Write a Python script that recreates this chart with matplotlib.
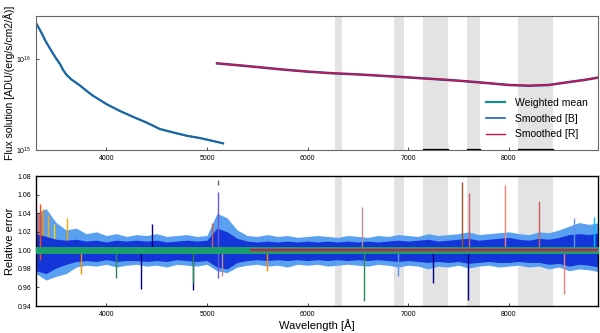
import numpy as np
import matplotlib
matplotlib.use("Agg")
import matplotlib.pyplot as plt

plt.rcParams['font.family'] = ['Liberation Sans', 'DejaVu Sans']

# --- top panel: flux solution (values in units of 1e15)
wl_blue = [3300, 3340, 3400, 3460, 3500, 3540, 3570, 3600, 3650, 3730, 3800,
           3860, 4000, 4130, 4270, 4400, 4530, 4670, 4800, 4930, 5050, 5160]
flux_blue = [25, 21, 15.5, 12, 10.2, 8.8, 7.6, 6.8, 6.0, 5.2, 4.5,
             4.0, 3.2, 2.7, 2.3, 2.0, 1.7, 1.55, 1.43, 1.35, 1.26, 1.18]
wl_red = [5100, 5300, 5500, 5750, 6000, 6250, 6500, 6750, 7000, 7250, 7500,
          7750, 8000, 8200, 8400, 8600, 8750, 8900]
flux_red = [9.0, 8.6, 8.2, 7.7, 7.3, 7.0, 6.8, 6.55, 6.3, 6.05, 5.8,
            5.5, 5.2, 5.1, 5.2, 5.6, 5.9, 6.3]

# telluric / masked regions
bands = [(6270, 6340), (6860, 6960), (7150, 7400), (7590, 7710), (8090, 8440)]
dark_marks = [(7150, 7400), (7590, 7710), (8090, 8440)]

# --- bottom panel: relative error envelopes (every 100 A)
wl_res = list(range(3300, 8901, 100))
outer_hi = [1.040, 1.045, 1.030, 1.022, 1.024, 1.018, 1.020, 1.016, 1.018, 1.015,
            1.017, 1.016, 1.018, 1.015, 1.016, 1.017, 1.015, 1.016, 1.040, 1.035,
            1.022, 1.016, 1.015, 1.017, 1.015, 1.016, 1.014, 1.015, 1.016, 1.015,
            1.014, 1.016, 1.015, 1.014, 1.016, 1.015, 1.017, 1.016, 1.015, 1.018,
            1.016, 1.017, 1.018, 1.020, 1.017, 1.018, 1.019, 1.020, 1.018, 1.017,
            1.020, 1.019, 1.022, 1.026, 1.030, 1.028, 1.030]
outer_lo = [0.975, 0.968, 0.972, 0.975, 0.982, 0.984, 0.983, 0.985, 0.982, 0.984,
            0.985, 0.983, 0.984, 0.982, 0.985, 0.984, 0.983, 0.985, 0.978, 0.976,
            0.982, 0.984, 0.985, 0.983, 0.984, 0.982, 0.985, 0.984, 0.985, 0.983,
            0.984, 0.985, 0.984, 0.983, 0.985, 0.984, 0.982, 0.984, 0.983, 0.980,
            0.983, 0.982, 0.984, 0.981, 0.983, 0.984, 0.982, 0.983, 0.984, 0.982,
            0.983, 0.980, 0.982, 0.978, 0.980, 0.979, 0.977]
inner_hi = [1.018, 1.015, 1.012, 1.011, 1.012, 1.010, 1.011, 1.009, 1.011, 1.010,
            1.011, 1.010, 1.011, 1.009, 1.010, 1.011, 1.010, 1.011, 1.024, 1.020,
            1.013, 1.010, 1.009, 1.010, 1.009, 1.010, 1.009, 1.010, 1.009, 1.010,
            1.009, 1.010, 1.009, 1.010, 1.009, 1.010, 1.011, 1.010, 1.011, 1.012,
            1.010, 1.011, 1.012, 1.013, 1.011, 1.012, 1.013, 1.014, 1.012, 1.011,
            1.013, 1.012, 1.014, 1.017, 1.018, 1.017, 1.019]
inner_lo = [0.978, 0.975, 0.981, 0.985, 0.988, 0.989, 0.988, 0.990, 0.988, 0.989,
            0.989, 0.988, 0.989, 0.988, 0.990, 0.989, 0.988, 0.989, 0.982, 0.980,
            0.987, 0.989, 0.990, 0.989, 0.990, 0.989, 0.990, 0.989, 0.990, 0.989,
            0.990, 0.989, 0.990, 0.989, 0.990, 0.989, 0.988, 0.989, 0.988, 0.987,
            0.988, 0.987, 0.988, 0.986, 0.987, 0.988, 0.987, 0.987, 0.988, 0.987,
            0.987, 0.985, 0.986, 0.983, 0.985, 0.984, 0.982]

# spikes: wavelength, low, high, colour
spikes = [(3320, 1.000, 1.040, 'tomato'), (3340, 0.990, 1.050, 'orangered'),
          (3370, 1.000, 1.045, 'darkorange'), (3420, 1.000, 1.038, 'orange'),
          (3480, 1.000, 1.028, 'gold'), (3610, 0.995, 1.035, 'orange'),
          (3750, 0.975, 1.000, 'darkorange'), (4100, 0.970, 1.000, 'seagreen'),
          (4340, 0.958, 1.000, 'navy'), (4450, 1.000, 1.028, 'navy'),
          (4860, 0.957, 1.000, 'navy'), (4860, 0.965, 1.000, 'seagreen'),
          (5050, 1.000, 1.030, 'indianred'), (5110, 0.970, 1.063, 'slateblue'),
          (5110, 1.070, 1.076, 'dimgray'), (5150, 0.972, 1.000, 'rosybrown'),
          (5600, 0.978, 1.000, 'darkorange'), (6545, 1.000, 1.047, 'rosybrown'),
          (6563, 0.945, 1.000, 'seagreen'), (6900, 0.972, 1.000, 'cornflowerblue'),
          (7250, 0.965, 1.000, 'navy'), (7540, 1.000, 1.074, 'sienna'),
          (7610, 1.000, 1.062, 'indianred'), (7600, 0.946, 1.000, 'navy'),
          (7960, 1.000, 1.070, 'salmon'), (8300, 1.000, 1.053, 'indianred'),
          (8550, 0.953, 1.000, 'lightcoral'), (8650, 1.000, 1.035, 'cornflowerblue'),
          (8850, 1.000, 1.036, 'deepskyblue')]

red_start = 5430
xmin, xmax = 3300, 8890

fig = plt.figure(figsize=(6, 3.33), dpi=100)
ax1 = fig.add_axes([0.06, 0.55, 0.937, 0.402])
ax2 = fig.add_axes([0.06, 0.081, 0.937, 0.39])

for a, b in bands:
    ax1.axvspan(a, b, color='#e3e3e3', lw=0, zorder=0)
    ax2.axvspan(a, b, color='#e3e3e3', lw=0, zorder=0)
for a, b in dark_marks:
    ax1.plot([a, b], [0.003, 0.003], color='black', lw=0.9,
             transform=ax1.get_xaxis_transform(), zorder=3)

fb = np.array(flux_blue) * 1e15
fr = np.array(flux_red) * 1e15
ax1.plot(wl_blue, fb, color='#1b8a8a', lw=1.6, label='Weighted mean')
ax1.plot(wl_blue, fb, color='#1f5fb0', lw=1.2, label='Smoothed [B]')
ax1.plot(wl_red, fr, color='#2a3a90', lw=1.8)
ax1.plot(wl_red, fr, color='#e0104a', lw=1.0, label='Smoothed [R]')
ax1.set_yscale('log')
ax1.set_ylim(1e15, 3e16)
ax1.set_xlim(xmin, xmax)
ax1.minorticks_off()
ax1.set_xticks([4000, 5000, 6000, 7000, 8000])
ax1.set_yticks([1e15, 1e16])
ax1.tick_params(direction='in', labelsize=5, length=2, width=0.5)
for s in ax1.spines.values():
    s.set_color('#666666')
ax1.set_ylabel('Flux solution [ADU/(erg/s/cm2/Å)]', fontsize=7.5, labelpad=1)
leg = ax1.legend(loc='lower right', frameon=False, fontsize=7.5, handlelength=1.8,
                 borderaxespad=0.6, labelspacing=0.55, handletextpad=1.0)

# bottom panel
ax2.fill_between(wl_res, outer_lo, outer_hi, color='#5aa0f0', lw=0, zorder=1)
ax2.fill_between(wl_res, inner_lo, inner_hi, color='#1436d8', lw=0, zorder=2)
for w, lo, hi, c in spikes:
    ax2.vlines(w, lo, hi, color=c, lw=1.0, zorder=1.5 if hi < 1.047 and w < 3700 else 3)
ax2.fill_between(wl_res, 0.996, 1.004, color='#1a9e6e', lw=0, zorder=4)
ax2.hlines(1.0, red_start, xmax, color='#e0104a', lw=1.5, zorder=5)
ax2.set_xlim(xmin, xmax)
ax2.set_ylim(0.94, 1.08)
ax2.set_xticks([4000, 5000, 6000, 7000, 8000])
ax2.set_yticks(np.arange(0.94, 1.081, 0.02))
ax2.set_yticklabels(['%.2f' % v for v in np.arange(0.94, 1.081, 0.02)])
ax2.tick_params(direction='in', labelsize=5, length=2, width=0.5)
for s in ax2.spines.values():
    s.set_linewidth(1.0)
ax2.set_ylabel('Relative error', fontsize=8, labelpad=2)
ax2.set_xlabel('Wavelength [Å]', fontsize=8, labelpad=1)

fig.savefig('out.png', dpi=100)
